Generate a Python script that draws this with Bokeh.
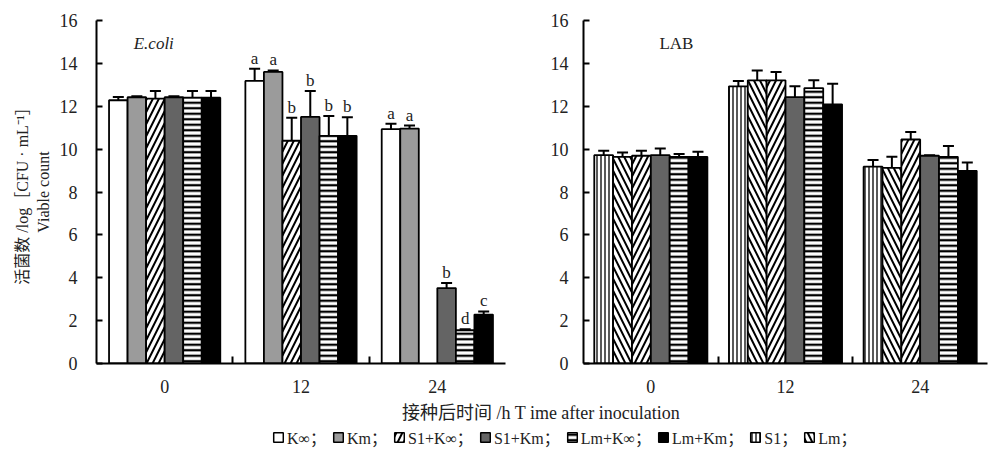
import numpy as np
from bokeh.plotting import figure
from bokeh.layouts import row, column
from bokeh.models import (ColumnDataSource, Range1d, FixedTicker, Whisker, TeeHead,
                          Label, Legend, LegendItem)
from bokeh.core.properties import value
from bokeh.embed import file_html
from bokeh.resources import INLINE

# ---------------- data ----------------
time_labels = ["0", "12", "24"]

# E. coli panel
ecoli_names = ["K∞", "Km", "S1+K∞", "S1+Km", "Lm+K∞", "Lm+Km"]
ecoli_Kinf = [12.28, 13.18, 10.93]
ecoli_Kinf_err = [0.15, 0.57, 0.25]
ecoli_Km = [12.42, 13.60, 10.96]
ecoli_Km_err = [0.05, 0.07, 0.14]
ecoli_S1Kinf = [12.36, 10.39, 0.0]
ecoli_S1Kinf_err = [0.35, 1.07, 0.0]
ecoli_S1Km = [12.42, 11.50, 3.52]
ecoli_S1Km_err = [0.05, 1.21, 0.23]
ecoli_LmKinf = [12.40, 10.62, 1.55]
ecoli_LmKinf_err = [0.31, 0.93, 0.05]
ecoli_LmKm = [12.40, 10.62, 2.28]
ecoli_LmKm_err = [0.31, 0.87, 0.15]
ecoli_Kinf_sig = ["", "a", "a"]
ecoli_Km_sig = ["", "a", "a"]
ecoli_S1Kinf_sig = ["", "b", ""]
ecoli_S1Km_sig = ["", "b", "b"]
ecoli_LmKinf_sig = ["", "b", "d"]
ecoli_LmKm_sig = ["", "b", "c"]

# LAB panel
lab_names = ["S1", "Lm", "S1+K∞", "S1+Km", "Lm+K∞", "Lm+Km"]
lab_S1 = [9.72, 12.93, 9.18]
lab_S1_err = [0.20, 0.25, 0.31]
lab_Lm = [9.64, 13.21, 9.13]
lab_Lm_err = [0.20, 0.46, 0.51]
lab_S1Kinf = [9.69, 13.21, 10.45]
lab_S1Kinf_err = [0.23, 0.39, 0.35]
lab_S1Km = [9.72, 12.43, 9.69]
lab_S1Km_err = [0.31, 0.50, 0.03]
lab_LmKinf = [9.64, 12.85, 9.64]
lab_LmKinf_err = [0.13, 0.36, 0.51]
lab_LmKm = [9.64, 12.09, 8.99]
lab_LmKm_err = [0.24, 0.96, 0.39]

legend_names = ["K∞", "Km", "S1+K∞", "S1+Km", "Lm+K∞", "Lm+Km", "S1", "Lm"]

# ---------------- styles ----------------
STYLE = {
    "K∞":    dict(fill_color="white"),
    "Km":    dict(fill_color="#9b9b9b"),
    "S1+K∞": dict(fill_color="white", hatch_pattern="/", hatch_scale=12, hatch_weight=2.0, hatch_color="black"),
    "S1+Km": dict(fill_color="#646464"),
    "Lm+K∞": dict(fill_color="white", hatch_pattern="-", hatch_scale=5.5, hatch_weight=2.3, hatch_color="black"),
    "Lm+Km": dict(fill_color="black"),
    "S1":    dict(fill_color="white", hatch_pattern="|", hatch_scale=4, hatch_weight=1.3, hatch_color="black"),
    "Lm":    dict(fill_color="white", hatch_pattern="\\", hatch_scale=12, hatch_weight=2.0, hatch_color="black"),
}
SERIF = "'Liberation Serif', 'Noto Sans CJK SC'"
TOP_H = 395
TEXT = "#222222"


def make_panel(names, means, errs, sigs, width, border_left, border_right, bar_w,
               ylabel, label_standoff):
    p = figure(width=width, height=TOP_H, x_range=Range1d(0, 3), y_range=Range1d(0, 16),
               output_backend="svg", toolbar_location=None,
               min_border_left=border_left, min_border_right=border_right,
               min_border_top=20, min_border_bottom=31)
    p.outline_line_color = None
    p.grid.visible = False
    n = len(names)
    for i, name in enumerate(names):
        xs, tops, lows, ups, labs = [], [], [], [], []
        for g in range(len(time_labels)):
            if means[i][g] <= 0:
                continue
            xs.append(g + 0.5 + (i - (n - 1) / 2) * bar_w)
            tops.append(means[i][g])
            lows.append(means[i][g])
            ups.append(means[i][g] + errs[i][g])
            labs.append(sigs[i][g] if sigs else "")
        src = ColumnDataSource(dict(x=xs, top=tops, lower=lows, upper=ups, lab=labs))
        p.vbar(x="x", top="top", bottom=0, width=bar_w, source=src,
               line_color="black", line_width=1.8, **STYLE[name])
        p.add_layout(Whisker(source=src, base="x", lower="lower", upper="upper",
                             dimension="height", line_width=2, line_color="black",
                             lower_head=None,
                             upper_head=TeeHead(size=11, line_width=2, line_color="black")))
        if sigs:
            p.text(x="x", y="upper", text="lab", source=src, text_font=value(SERIF),
                   text_font_size="17px", text_align="center", text_baseline="bottom",
                   y_offset=-1, text_color=TEXT)
    # x axis
    xa = p.xaxis[0]
    xa.ticker = FixedTicker(ticks=[0.5, 1.5, 2.5], minor_ticks=[1.0, 2.0])
    xa.major_label_overrides = {0.5: time_labels[0], 1.5: time_labels[1], 2.5: time_labels[2]}
    xa.major_tick_line_color = None
    xa.minor_tick_in = 7
    xa.minor_tick_out = 0
    xa.minor_tick_line_width = 2
    xa.axis_line_width = 2
    xa.major_label_standoff = 10
    xa.major_label_text_font = SERIF
    xa.major_label_text_font_size = "18px"
    xa.major_label_text_color = TEXT
    # y axis
    ya = p.yaxis[0]
    ya.ticker = FixedTicker(ticks=list(range(0, 17, 2)))
    ya.major_tick_in = 6
    ya.major_tick_out = 0
    ya.major_tick_line_width = 2
    ya.minor_tick_line_color = None
    ya.axis_line_width = 2
    ya.major_label_standoff = label_standoff
    ya.major_label_text_font = SERIF
    ya.major_label_text_font_size = "18px"
    ya.major_label_text_color = TEXT
    if ylabel:
        ya.axis_label = ylabel
        ya.axis_label_text_font = SERIF
        ya.axis_label_text_font_style = "normal"
        ya.axis_label_text_font_size = "16px"
        ya.axis_label_text_color = TEXT
        ya.axis_label_text_align = "center"
        ya.axis_label_standoff = 5
    return p


ecoli_means = [ecoli_Kinf, ecoli_Km, ecoli_S1Kinf, ecoli_S1Km, ecoli_LmKinf, ecoli_LmKm]
ecoli_errs = [ecoli_Kinf_err, ecoli_Km_err, ecoli_S1Kinf_err, ecoli_S1Km_err, ecoli_LmKinf_err, ecoli_LmKm_err]
ecoli_sigs = [ecoli_Kinf_sig, ecoli_Km_sig, ecoli_S1Kinf_sig, ecoli_S1Km_sig, ecoli_LmKinf_sig, ecoli_LmKm_sig]
lab_means = [lab_S1, lab_Lm, lab_S1Kinf, lab_S1Km, lab_LmKinf, lab_LmKm]
lab_errs = [lab_S1_err, lab_Lm_err, lab_S1Kinf_err, lab_S1Km_err, lab_LmKinf_err, lab_LmKm_err]

p1 = make_panel(ecoli_names, ecoli_means, ecoli_errs, ecoli_sigs, 518, 96, 13, 0.136,
                "活菌数 /log［CFU · mL⁻¹］\nViable count", 19)
p1.add_layout(Label(x=0.42, y=14.93, text="E.coli", text_font=SERIF, text_font_style="italic",
                    text_font_size="17px", text_align="center", text_baseline="middle",
                    text_color=TEXT))

p2 = make_panel(lab_names, lab_means, lab_errs, None, 472, 65, 3, 0.14, None, 15)
p2.add_layout(Label(x=0.69, y=14.95, text="LAB", text_font=SERIF,
                    text_font_size="17px", text_align="center", text_baseline="middle",
                    text_color=TEXT))

# bottom strip: x title + legend
p3 = figure(width=990, height=56, x_range=Range1d(0, 1), y_range=Range1d(0, 1),
            output_backend="svg", toolbar_location=None,
            x_axis_location=None, y_axis_location=None, min_border=0)
p3.outline_line_color = None
p3.grid.visible = False
p3.add_layout(Label(x=543, y=39, x_units="screen", y_units="screen",
                    text="接种后时间 /h  T ime after inoculation", text_font=SERIF,
                    text_font_size="18px", text_align="center", text_baseline="middle",
                    text_color=TEXT))
items = []
for name in legend_names:
    # hidden legend proxy (only its swatch is drawn by the legend)
    proxy = ColumnDataSource(dict(x=[0.5], top=[0.5]))
    r = p3.vbar(x="x", top="top", width=0.1, source=proxy, line_color="black",
                line_width=1.5, visible=False, **STYLE[name])
    items.append(LegendItem(label=name + "；", renderers=[r]))
leg = Legend(items=items, orientation="horizontal", location=(272, 2),
             glyph_width=12, glyph_height=12, label_standoff=3, spacing=6,
             padding=0, margin=0, border_line_color=None, background_fill_alpha=0,
             label_text_font=SERIF, label_text_font_size="16px", label_height=16,
             label_text_color=TEXT)
p3.add_layout(leg)

layout = column(row(p1, p2), p3)
open("out.html", "w").write(file_html(layout, INLINE))
